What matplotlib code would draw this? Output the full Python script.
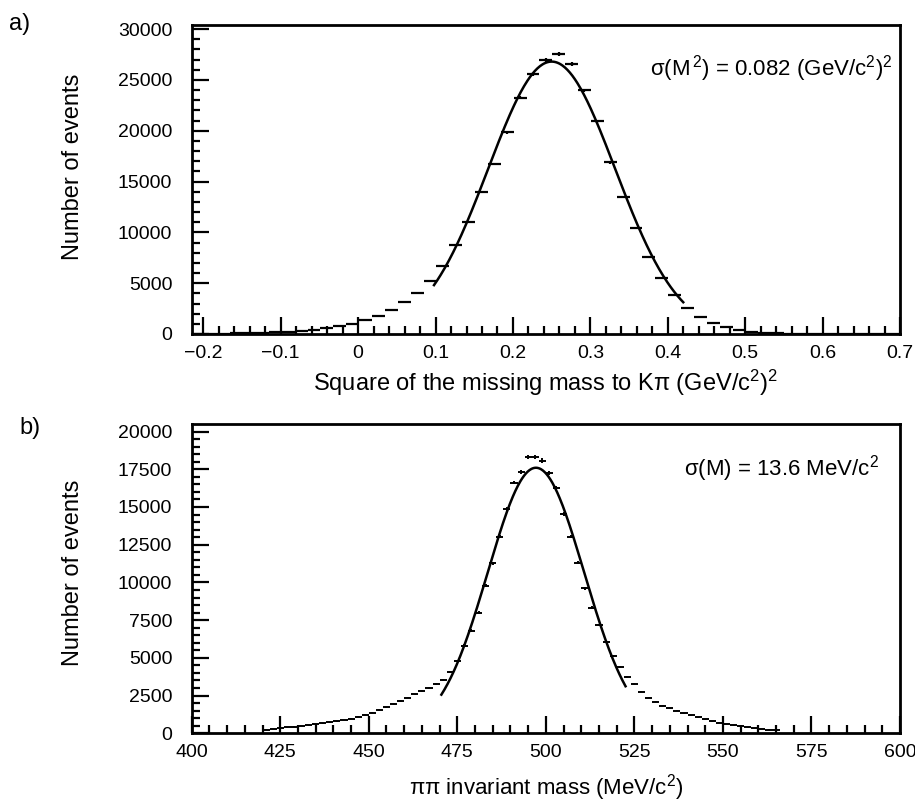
import numpy as np
import matplotlib.pyplot as plt

plt.rcParams['font.family'] = ['Liberation Sans', 'DejaVu Sans']
plt.rcParams['mathtext.default'] = 'regular'

# a) missing mass squared to K pi, 55 bins from -0.215 to 0.7 (GeV/c^2)^2
mm2_edges_lo = -0.215
mm2_edges_hi = 0.7
mm2_counts = [20, 30, 40, 60, 80, 130, 165, 230, 330, 430,
              580, 800, 1030, 1380, 1790, 2400, 3125, 4050, 5250, 6700,
              8780, 11020, 13980, 16740, 19840, 23260, 25560, 26970, 27530, 26550,
              23980, 20950, 16880, 13490, 10430, 7570, 5490, 3880, 2530, 1690,
              1050, 660, 390, 230, 100, 60, 40, 30, 20, 15,
              10, 10, 5, 5, 5]
mm2_fit = dict(amp=26800, mean=0.250, sigma=0.082, lo=0.098, hi=0.42)
mm2_ticks = [-0.2, -0.1, 0, 0.1, 0.2, 0.3, 0.4, 0.5, 0.6, 0.7]
mm2_ticklabels = ['\u22120.2', '\u22120.1', '0', '0.1', '0.2', '0.3', '0.4', '0.5', '0.6', '0.7']
mm2_yticks = [0, 5000, 10000, 15000, 20000, 25000, 30000]

# b) pi pi invariant mass, 2 MeV bins from 400 to 600 (empty bins left out)
mpp_centers = [421, 423, 425, 427, 429, 431, 433, 435, 437, 439,
               441, 443, 445, 447, 449, 451, 453, 455, 457, 459,
               461, 463, 465, 467, 469, 471, 473, 475, 477, 479,
               481, 483, 485, 487, 489, 491, 493, 495, 497, 499,
               501, 503, 505, 507, 509, 511, 513, 515, 517, 519,
               521, 523, 525, 527, 529, 531, 533, 535, 537, 539,
               541, 543, 545, 547, 549, 551, 553, 555, 557, 559,
               561, 563, 565]
mpp_counts = [250, 300, 350, 390, 430, 480, 530, 590, 650, 720,
              800, 880, 980, 1090, 1220, 1370, 1540, 1730, 1950, 2150,
              2370, 2580, 2800, 3000, 3250, 3550, 4040, 4810, 5810, 6800,
              8000, 9790, 11270, 13040, 14850, 16620, 17350, 18300, 18340, 18080,
              17280, 16250, 14520, 13040, 11310, 9610, 8330, 7180, 6070, 5150,
              4380, 3710, 3270, 2760, 2360, 2100, 1830, 1650, 1500, 1330,
              1210, 1050, 930, 800, 700, 620, 540, 470, 400, 340,
              290, 240, 200]
mpp_bin = 2.0
mpp_fit = dict(amp=17600, mean=497.2, sigma=13.6, lo=470.5, hi=522.5)
mpp_ticks = [400, 425, 450, 475, 500, 525, 550, 575, 600]
mpp_yticks = [0, 2500, 5000, 7500, 10000, 12500, 15000, 17500, 20000]

W, H = 915, 802
fig = plt.figure(figsize=(W / 100, H / 100), dpi=100)


def frame(ax):
    for s in ax.spines.values():
        s.set_linewidth(2)
    ax.tick_params(which='both', direction='in', top=False, right=False, width=1.6)
    ax.tick_params(which='major', length=12, labelsize=14)
    ax.tick_params(which='minor', length=6)
    ax.tick_params(axis='y', pad=14)
    ax.tick_params(axis='x', pad=8)


def gauss_curve(ax, p):
    x = np.linspace(p['lo'], p['hi'], 300)
    ax.plot(x, p['amp'] * np.exp(-0.5 * ((x - p['mean']) / p['sigma']) ** 2),
            color='black', lw=1.8)


# ---- panel a ----
ax1 = fig.add_axes([191.7 / W, 1 - 334 / H, 708.3 / W, 309 / H])
n1 = len(mm2_counts)
edges1 = np.linspace(mm2_edges_lo, mm2_edges_hi, n1 + 1)
c1 = 0.5 * (edges1[:-1] + edges1[1:])
y1 = np.array(mm2_counts, dtype=float)
ax1.errorbar(c1, y1, xerr=0.5 * (edges1[1] - edges1[0]), yerr=np.sqrt(y1),
             fmt='none', ecolor='black', elinewidth=1.6, capsize=0)
gauss_curve(ax1, mm2_fit)
ax1.set_xlim(mm2_edges_lo, mm2_edges_hi)
ax1.set_ylim(0, 30400)
ax1.set_xticks(mm2_ticks, mm2_ticklabels)
ax1.set_xticks(np.arange(-0.2, 0.701, 0.02), minor=True)
ax1.set_yticks(mm2_yticks, [str(v) for v in mm2_yticks])
ax1.set_yticks(np.arange(0, 30001, 1000), minor=True)
frame(ax1)
ax1.set_ylabel('Number of events', fontsize=17)
ax1.yaxis.set_label_coords(-0.152, 0.54)
ax1.set_xlabel('Square of the missing mass to K\u03c0 (GeV/c$^2$)$^2$', fontsize=17)
ax1.xaxis.set_label_coords(0.5, -0.11)
ax1.text(0.99, 0.86, '\u03c3(M$^{\\,2}$) = 0.082 (GeV/c$^2$)$^2$', transform=ax1.transAxes,
         ha='right', va='center', fontsize=16)
fig.text(20 / W, 1 - 24 / H, 'a)', fontsize=17, ha='center', va='center')

# ---- panel b ----
ax2 = fig.add_axes([191.7 / W, 1 - 733.3 / H, 708.3 / W, 309.3 / H])
y2 = np.array(mpp_counts, dtype=float)
ax2.errorbar(mpp_centers, y2, xerr=0.5 * mpp_bin, yerr=np.sqrt(y2),
             fmt='none', ecolor='black', elinewidth=1.4, capsize=0)
gauss_curve(ax2, mpp_fit)
ax2.set_xlim(400, 600)
ax2.set_ylim(0, 20500)
ax2.set_xticks(mpp_ticks, [str(v) for v in mpp_ticks])
ax2.set_xticks(np.arange(400, 601, 5), minor=True)
ax2.set_yticks(mpp_yticks, [str(v) for v in mpp_yticks])
ax2.set_yticks(np.arange(0, 20001, 500), minor=True)
frame(ax2)
ax2.set_ylabel('Number of events', fontsize=17)
ax2.yaxis.set_label_coords(-0.152, 0.52)
ax2.set_xlabel('\u03c0\u03c0 invariant mass (MeV/c$^2$)', fontsize=16)
ax2.xaxis.set_label_coords(0.5, -0.125)
ax2.text(0.97, 0.855, '\u03c3(M) = 13.6 MeV/c$^2$', transform=ax2.transAxes,
         ha='right', va='center', fontsize=16)
fig.text(30 / W, 1 - 428 / H, 'b)', fontsize=17, ha='center', va='center')

fig.savefig('out.png', dpi=100)
